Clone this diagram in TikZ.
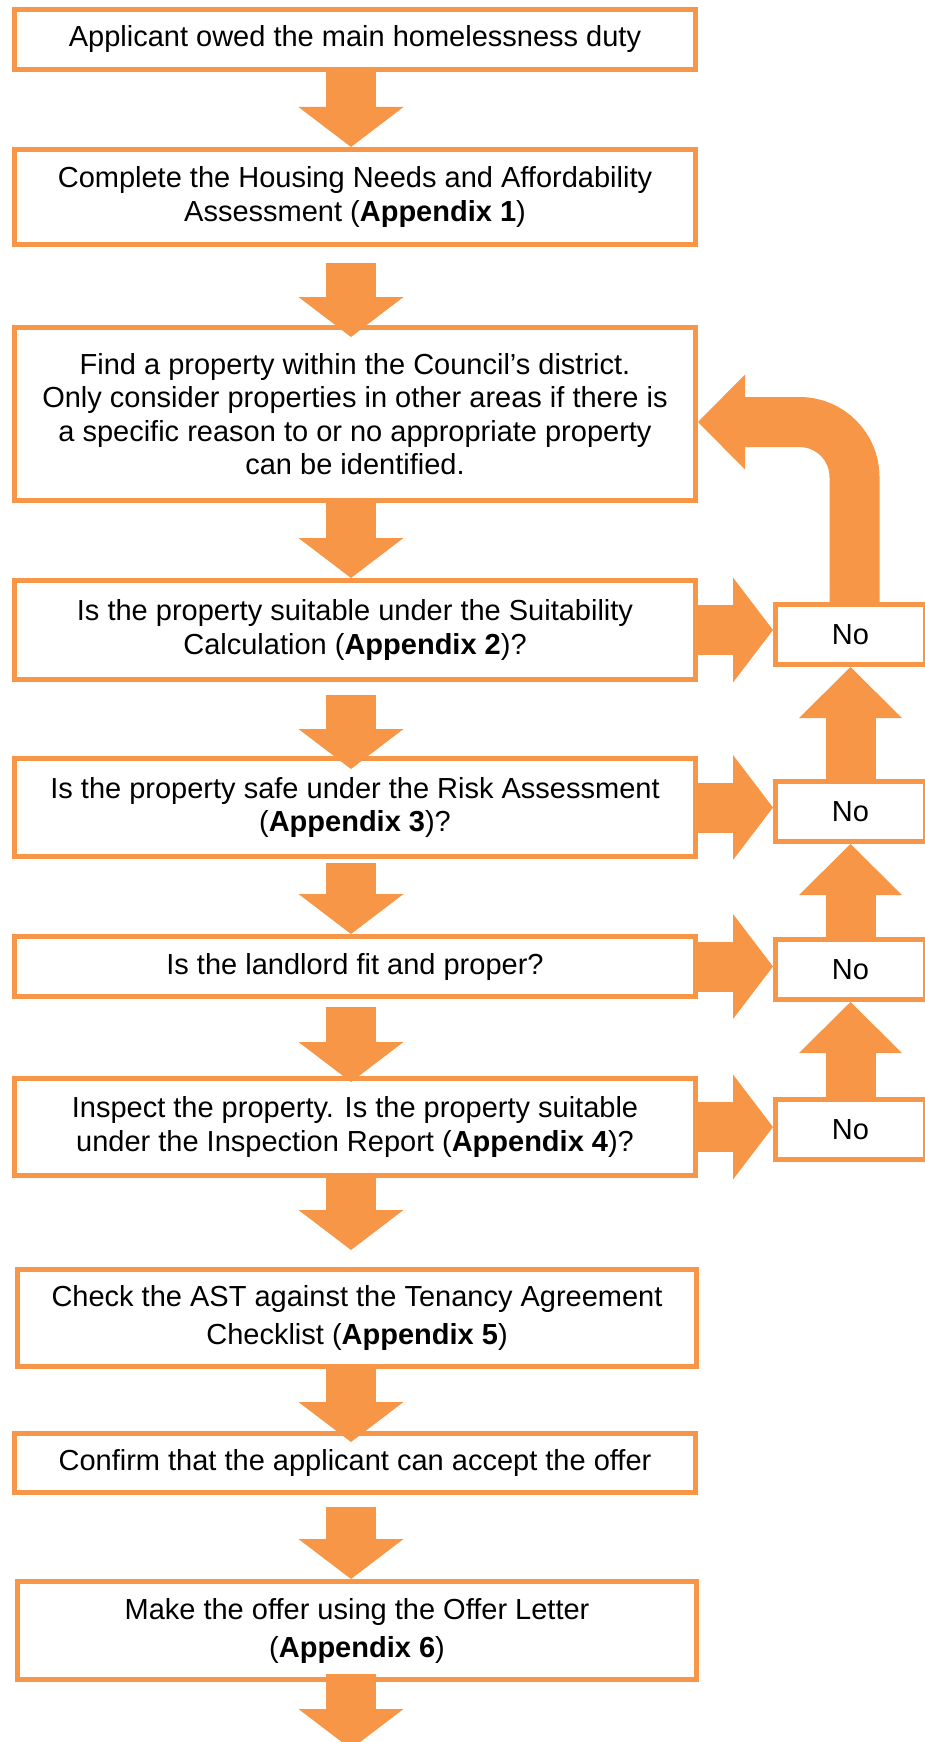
\documentclass[tikz,border=0pt]{standalone}
\usepackage{fontspec}
\setmainfont{Liberation Sans}
\usetikzlibrary{arrows.meta,calc}
\definecolor{orng}{HTML}{F79646}
\begin{document}
\begin{tikzpicture}[x=1pt,y=-1pt,
    box/.style={draw=orng,line width=5pt,fill=white,inner sep=0pt,align=center,
        minimum width=681pt,font=\fontsize{29}{33.5}\selectfont},
    nobox/.style={box,minimum width=150pt,minimum height=60pt},
    down/.style={orng,line width=50pt,-{Triangle[width=105pt,length=40pt,line width=0pt]}},
    up/.style={orng,line width=50pt,-{Triangle[width=103pt,length=51pt,line width=0pt]}},
    back/.style={orng,line width=50pt,rounded corners=55pt,
        -{Triangle[width=95pt,length=47pt,line width=0pt]}}]

\useasboundingbox (0,0) rectangle (925,1742);

\node[box,minimum height=60pt] (owed) at (355,39.5) {Applicant owed the main homelessness duty};
\node[box,minimum height=95pt] (hna) at (355,197) {Complete the Housing Needs and Affordability\\Assessment (\textbf{Appendix 1})};
\node[box,minimum height=173pt] (find) at (355,414) {Find a property within the Council’s district.\\Only consider properties in other areas if there is\\a specific reason to or no appropriate property\\can be identified.};
\node[box,minimum height=99pt] (suit) at (355,630) {Is the property suitable under the Suitability\\Calculation (\textbf{Appendix 2})?};
\node[box,minimum height=98pt] (risk) at (355,807.5) {Is the property safe under the Risk Assessment\\(\textbf{Appendix 3})?};
\node[box,minimum height=60pt] (landlord) at (355,966.5) {Is the landlord fit and proper?};
\node[box,minimum height=97pt] (inspect) at (355,1127) {Inspect the property. Is the property suitable\\under the Inspection Report (\textbf{Appendix 4})?};
\node[box,minimum height=97pt,minimum width=679pt,font=\fontsize{29}{38}\selectfont] (ast) at (357,1318) {Check the AST against the Tenancy Agreement\\Checklist (\textbf{Appendix 5})};
\node[box,minimum height=59pt] (confirm) at (355,1463) {Confirm that the applicant can accept the offer};
\node[box,minimum height=98pt,minimum width=679pt,font=\fontsize{29}{38}\selectfont] (offer) at (357,1630.5) {Make the offer using the Offer Letter\\(\textbf{Appendix 6})};

\node[nobox] (no1) at (850.5,634.5) {No};
\node[nobox] (no2) at (850.5,811.5) {No};
\node[nobox] (no3) at (850.5,969.5) {No};
\node[nobox] (no4) at (850.5,1129.5) {No};

\coordinate (axis) at (351,0);
\coordinate (out) at (351,1749);

% main line
\draw[down] (owed.south -| axis) -- (hna.north -| axis);
\draw[down] ($(hna.south -| axis)+(0,16)$) -- ($(find.north -| axis)+(0,12)$);
\draw[down] (find.south -| axis) -- (suit.north -| axis);
\draw[down] ($(suit.south -| axis)+(0,13)$) -- ($(risk.north -| axis)+(0,13)$);
\draw[down] ($(risk.south -| axis)+(0,4)$) -- (landlord.north -| axis);
\draw[down] ($(landlord.south -| axis)+(0,8)$) -- ($(inspect.north -| axis)+(0,6)$);
\draw[down] (inspect.south -| axis) -- ($(ast.north -| axis)+(0,-17)$);
\draw[down] (ast.south -| axis) -- ($(confirm.north -| axis)+(0,11)$);
\draw[down] ($(confirm.south -| axis)+(0,12)$) -- (offer.north -| axis);
\draw[down] ($(offer.south -| axis)+(0,-8)$) -- (out);

% the no side
\draw[down] (suit.east) -- (suit.east -| no1.west);
\draw[down] (risk.east) -- (risk.east -| no2.west);
\draw[down] (landlord.east) -- (landlord.east -| no3.west);
\draw[down] (inspect.east) -- (inspect.east -| no4.west);

\draw[up] (no4.north) -- (no3.south);
\draw[up] (no3.north) -- (no2.south);
\draw[up] (no2.north) -- (no1.south);

\draw[back] ([xshift=4pt]no1.north) |- ($(find.east)+(0,8)$);

\end{tikzpicture}
\end{document}
